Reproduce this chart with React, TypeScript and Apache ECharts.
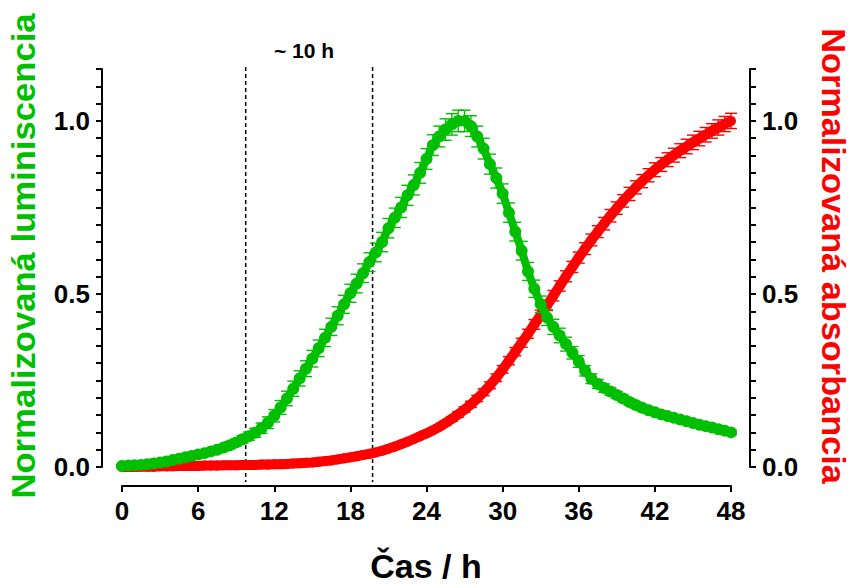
import React, { useEffect, useRef } from "react";
import * as echarts from "echarts";

// ---- data ----
const timeH = [
  0, 0.5, 1, 1.5, 2, 2.5, 3, 3.5, 4, 4.5, 5, 5.5, 6, 6.5, 7, 7.5, 8, 8.5, 9, 9.5,
  10, 10.5, 11, 11.5, 12, 12.5, 13, 13.5, 14, 14.5, 15, 15.5, 16, 16.5, 17, 17.5, 18, 18.5, 19, 19.5,
  20, 20.5, 21, 21.5, 22, 22.5, 23, 23.5, 24, 24.5, 25, 25.5, 26, 26.5, 27, 27.5, 28, 28.5, 29, 29.5,
  30, 30.5, 31, 31.5, 32, 32.5, 33, 33.5, 34, 34.5, 35, 35.5, 36, 36.5, 37, 37.5, 38, 38.5, 39, 39.5,
  40, 40.5, 41, 41.5, 42, 42.5, 43, 43.5, 44, 44.5, 45, 45.5, 46, 46.5, 47, 47.5, 48,
];

const luminescence = [
  0.003, 0.004, 0.005, 0.006, 0.008, 0.010, 0.013, 0.016, 0.020, 0.024, 0.028, 0.032, 0.036, 0.040, 0.045, 0.050, 0.056, 0.063, 0.071, 0.080,
  0.089, 0.099, 0.112, 0.128, 0.148, 0.172, 0.198, 0.226, 0.256, 0.284, 0.313, 0.343, 0.373, 0.405, 0.437, 0.470, 0.502, 0.530, 0.560, 0.592,
  0.620, 0.650, 0.690, 0.720, 0.750, 0.785, 0.815, 0.850, 0.890, 0.930, 0.955, 0.975, 0.990, 1.000, 1.000, 0.985, 0.955, 0.920, 0.875, 0.835,
  0.790, 0.735, 0.680, 0.625, 0.565, 0.515, 0.470, 0.432, 0.405, 0.380, 0.355, 0.330, 0.305, 0.278, 0.255, 0.240, 0.228, 0.218, 0.208, 0.198,
  0.188, 0.179, 0.171, 0.164, 0.158, 0.152, 0.147, 0.142, 0.137, 0.132, 0.127, 0.122, 0.118, 0.114, 0.109, 0.105, 0.100,
];

const luminescenceErr = [
  0.004, 0.004, 0.004, 0.005, 0.005, 0.005, 0.006, 0.006, 0.006, 0.007, 0.007, 0.007, 0.008, 0.008, 0.008, 0.009, 0.009, 0.010, 0.010, 0.011,
  0.012, 0.013, 0.015, 0.017, 0.018, 0.020, 0.021, 0.022, 0.022, 0.023, 0.024, 0.024, 0.025, 0.025, 0.026, 0.026, 0.026, 0.027, 0.027, 0.027,
  0.027, 0.028, 0.028, 0.028, 0.029, 0.029, 0.029, 0.030, 0.030, 0.030, 0.030, 0.031, 0.031, 0.031, 0.031, 0.030, 0.030, 0.030, 0.029, 0.029,
  0.028, 0.028, 0.027, 0.027, 0.026, 0.025, 0.024, 0.023, 0.022, 0.021, 0.020, 0.018, 0.017, 0.015, 0.014, 0.013, 0.012, 0.011, 0.010, 0.010,
  0.009, 0.009, 0.009, 0.008, 0.008, 0.008, 0.008, 0.007, 0.007, 0.007, 0.007, 0.007, 0.006, 0.006, 0.006, 0.006, 0.006,
];

const absorbance = [
  0.000, 0.000, 0.000, 0.001, 0.001, 0.001, 0.002, 0.002, 0.002, 0.003, 0.003, 0.003, 0.003, 0.004, 0.004, 0.004, 0.005, 0.005, 0.005, 0.006,
  0.006, 0.006, 0.007, 0.007, 0.008, 0.008, 0.009, 0.010, 0.011, 0.012, 0.013, 0.015, 0.017, 0.019, 0.022, 0.025, 0.028, 0.031, 0.035, 0.038,
  0.042, 0.047, 0.053, 0.059, 0.066, 0.073, 0.081, 0.089, 0.097, 0.106, 0.116, 0.127, 0.139, 0.152, 0.166, 0.181, 0.198, 0.216, 0.236, 0.258,
  0.282, 0.307, 0.333, 0.359, 0.385, 0.412, 0.439, 0.467, 0.495, 0.523, 0.551, 0.578, 0.605, 0.631, 0.656, 0.680, 0.703, 0.726, 0.748, 0.769,
  0.789, 0.808, 0.826, 0.843, 0.859, 0.874, 0.888, 0.901, 0.914, 0.926, 0.938, 0.949, 0.960, 0.971, 0.981, 0.991, 1.000,
];

const absorbanceErr = [
  0.002, 0.002, 0.002, 0.002, 0.002, 0.002, 0.002, 0.002, 0.002, 0.002, 0.002, 0.002, 0.002, 0.002, 0.002, 0.002, 0.002, 0.002, 0.002, 0.002,
  0.002, 0.002, 0.002, 0.002, 0.002, 0.002, 0.002, 0.002, 0.003, 0.003, 0.003, 0.003, 0.003, 0.003, 0.003, 0.003, 0.003, 0.003, 0.003, 0.003,
  0.003, 0.003, 0.004, 0.004, 0.004, 0.005, 0.005, 0.005, 0.006, 0.006, 0.006, 0.007, 0.007, 0.008, 0.008, 0.009, 0.009, 0.010, 0.010, 0.011,
  0.011, 0.012, 0.012, 0.013, 0.013, 0.014, 0.014, 0.015, 0.015, 0.015, 0.016, 0.016, 0.016, 0.017, 0.017, 0.017, 0.018, 0.018, 0.018, 0.018,
  0.019, 0.019, 0.019, 0.019, 0.020, 0.020, 0.020, 0.020, 0.020, 0.021, 0.021, 0.021, 0.021, 0.021, 0.022, 0.022, 0.022,
];

const markerTimes = [9.75, 19.75];
const markerLabel = "~ 10 h";
const xTitle = "Čas / h";
const leftTitle = "Normalizovaná luminiscencia";
const rightTitle = "Normalizovaná absorbancia";

const GREEN = "#00bf00";
const RED = "#ff0000";
const FONT = "'Liberation Sans', Arial, Helvetica, sans-serif";

function errorBars(color: string) {
  return (params: any, api: any) => {
    const x = api.value(0);
    const y = api.value(1);
    const e = api.value(2);
    const top = api.coord([x, y + e]);
    const bot = api.coord([x, y - e]);
    const w = 6;
    const style = { stroke: color, lineWidth: 1.4 };
    return {
      type: "group",
      children: [
        { type: "line", shape: { x1: top[0], y1: top[1], x2: bot[0], y2: bot[1] }, style },
        { type: "line", shape: { x1: top[0] - w, y1: top[1], x2: top[0] + w, y2: top[1] }, style },
        { type: "line", shape: { x1: bot[0] - w, y1: bot[1], x2: bot[0] + w, y2: bot[1] }, style },
      ],
    };
  };
}

const yLabel = (v: number) => {
  const r = Math.round(v * 100);
  return r % 50 === 0 ? (r / 100).toFixed(1) : "";
};

export default function App() {
  const ref = useRef<HTMLDivElement>(null);
  useEffect(() => {
    if (!ref.current) return;
    const chart = echarts.init(ref.current, undefined, { renderer: "svg" });
    const lum = timeH.map((t, i) => [t, luminescence[i]]);
    const lumE = timeH.map((t, i) => [t, luminescence[i], luminescenceErr[i]]);
    const abs = timeH.map((t, i) => [t, absorbance[i]]);
    const absE = timeH.map((t, i) => [t, absorbance[i], absorbanceErr[i]]);

    const axisLine = { show: true, onZero: false, lineStyle: { color: "#000", width: 2 } };
    const axisTick = { show: true, length: 6, lineStyle: { color: "#000", width: 2 } };
    const axisLabel = { color: "#000", fontSize: 26, fontWeight: "bold" as const, fontFamily: FONT };

    const option: any = {
      animation: false,
      backgroundColor: "#fff",
      grid: { left: 122, right: 120, top: 69, bottom: 121 },
      xAxis: {
        type: "value",
        min: 0,
        max: 48,
        interval: 6,
        offset: 19,
        axisLine,
        axisTick,
        axisLabel: { ...axisLabel, margin: 12 },
        splitLine: { show: false },
      },
      yAxis: [
        {
          type: "value",
          position: "left",
          min: 0,
          max: 1.15,
          interval: 0.05,
          offset: 20,
          axisLine,
          axisTick,
          axisLabel: { ...axisLabel, margin: 12, formatter: yLabel },
          splitLine: { show: false },
        },
        {
          type: "value",
          position: "right",
          min: 0,
          max: 1.15,
          interval: 0.05,
          offset: 19,
          axisLine,
          axisTick,
          axisLabel: { ...axisLabel, margin: 12, formatter: yLabel },
          splitLine: { show: false },
        },
      ],
      series: [
        {
          type: "line",
          name: "abs",
          yAxisIndex: 1,
          data: abs,
          symbol: "circle",
          symbolSize: 10,
          showSymbol: true,
          itemStyle: { color: RED },
          lineStyle: { color: RED, width: 10 },
          z: 2,
        },
        {
          type: "custom",
          yAxisIndex: 1,
          data: absE,
          renderItem: errorBars(RED),
          z: 2,
        },
        {
          type: "line",
          name: "lum",
          yAxisIndex: 0,
          data: lum,
          symbol: "circle",
          symbolSize: 12,
          showSymbol: true,
          itemStyle: { color: GREEN },
          lineStyle: { color: GREEN, width: 8 },
          z: 3,
        },
        {
          type: "custom",
          yAxisIndex: 0,
          data: lumE,
          renderItem: errorBars(GREEN),
          z: 3,
        },
      ],
    };
    chart.setOption(option);

    const yTop = chart.convertToPixel({ yAxisIndex: 0 }, 1.15) as number;
    const yBot = chart.convertToPixel({ yAxisIndex: 0 }, -0.043) as number;
    const xs = markerTimes.map((t) => chart.convertToPixel({ xAxisIndex: 0 }, t) as number);

    const graphic: any[] = xs.map((x) => ({
      type: "line",
      shape: { x1: x, y1: yTop - 2, x2: x, y2: yBot },
      style: { stroke: "#000", lineWidth: 1.5, lineDash: [4, 3] },
      silent: true,
    }));
    graphic.push(
      {
        type: "text",
        x: 304,
        y: 50,
        style: {
          text: markerLabel,
          fill: "#000",
          font: `bold 21px ${FONT}`,
          align: "center",
          verticalAlign: "middle",
        },
      },
      {
        type: "text",
        x: 426,
        y: 566,
        style: {
          text: xTitle,
          fill: "#000",
          font: `bold 34px ${FONT}`,
          align: "center",
          verticalAlign: "middle",
        },
      },
      {
        type: "text",
        x: 23,
        y: 256,
        rotation: Math.PI / 2,
        scaleX: 1.05,
        style: {
          text: leftTitle,
          fill: GREEN,
          font: `bold 33px ${FONT}`,
          align: "center",
          verticalAlign: "middle",
        },
      },
      {
        type: "text",
        x: 833,
        y: 256,
        rotation: -Math.PI / 2,
        scaleX: 1.04,
        style: {
          text: rightTitle,
          fill: RED,
          font: `bold 33px ${FONT}`,
          align: "center",
          verticalAlign: "middle",
        },
      }
    );
    chart.setOption({ graphic });

    return () => chart.dispose();
  }, []);

  return (
    <div
      ref={ref}
      style={{ position: "fixed", left: 0, top: 0, width: 851, height: 588, background: "#fff" }}
    />
  );
}
